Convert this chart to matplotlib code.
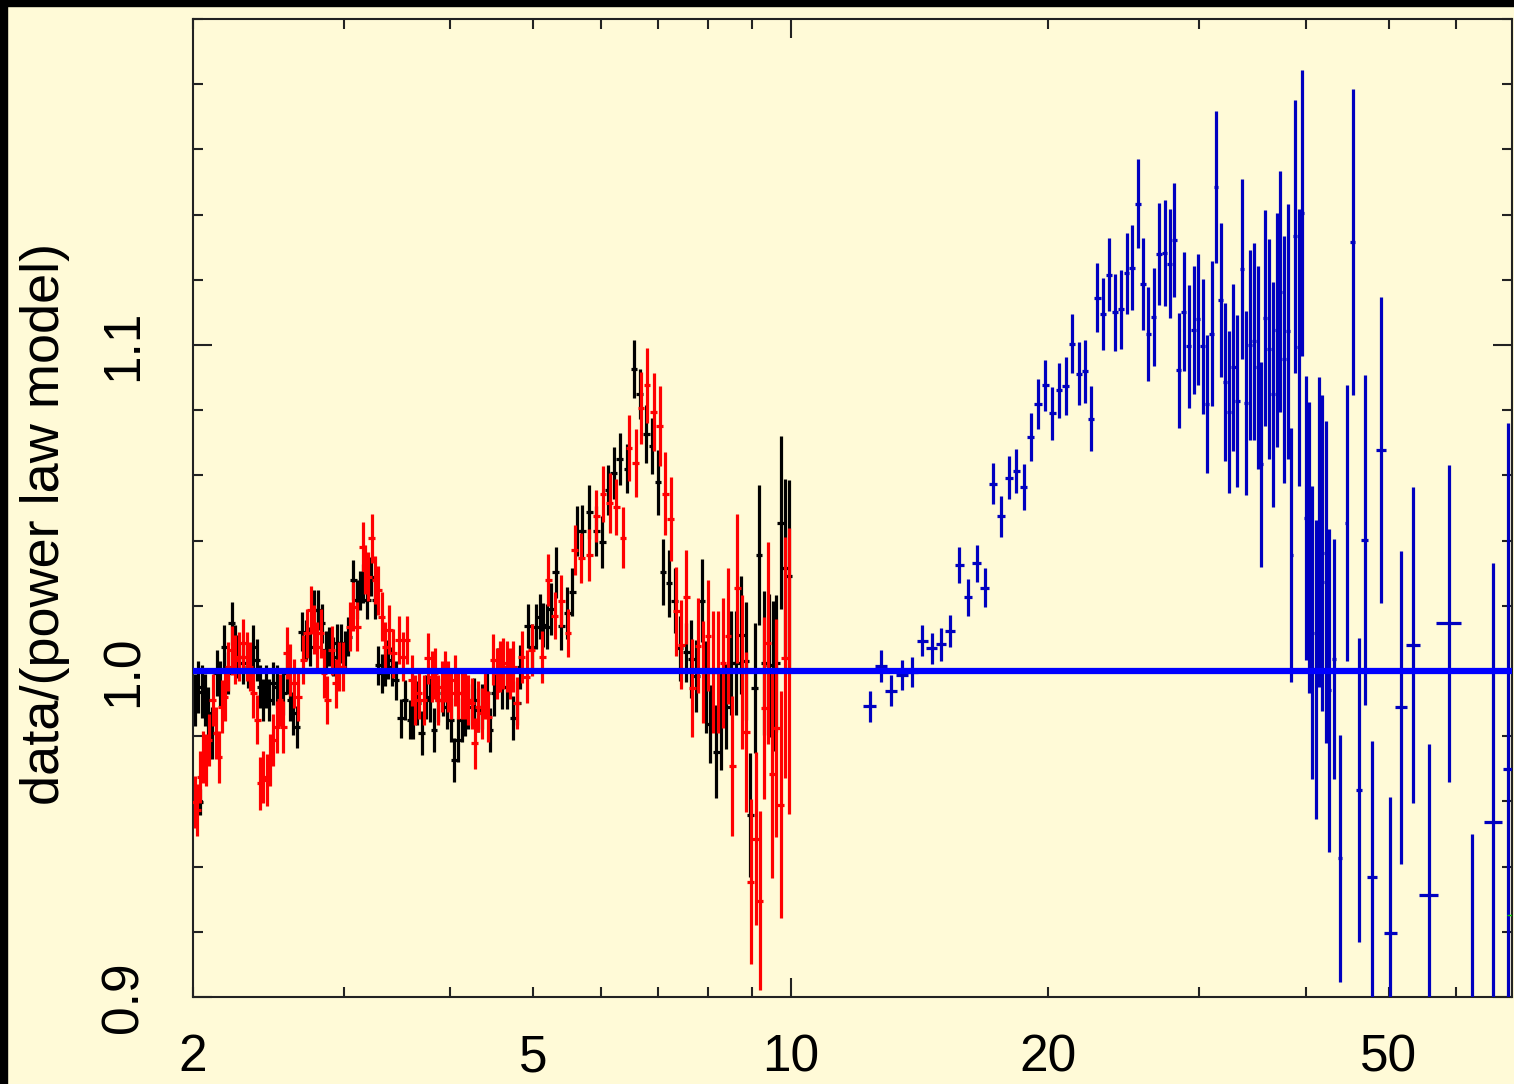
# -*- coding: utf-8 -*-
"""
Ratio of data to a power-law model vs energy (keV)
"""
import numpy as np
import matplotlib
matplotlib.use('Agg')
import matplotlib.pyplot as plt
from matplotlib.ticker import FixedLocator, FixedFormatter, FuncFormatter, MultipleLocator
from matplotlib.patches import Rectangle

BG = '#FFFAD7'

# --- black spectrum (2-10 keV) ---
black_e = [2.011, 2.029, 2.038, 2.047, 2.066, 2.084, 2.107, 2.132, 2.151, 2.176,
           2.200, 2.220, 2.240, 2.260, 2.291, 2.322, 2.353, 2.374, 2.395, 2.413,
           2.434, 2.456, 2.483, 2.505, 2.527, 2.550, 2.573, 2.596, 2.620, 2.644,
           2.679, 2.711, 2.740, 2.772, 2.802, 2.827, 2.858, 2.886, 2.918, 2.949,
           2.978, 3.011, 3.038, 3.079, 3.107, 3.135, 3.163, 3.197, 3.229, 3.264,
           3.293, 3.323, 3.353, 3.383, 3.414, 3.454, 3.497, 3.538, 3.586, 3.619,
           3.658, 3.701, 3.744, 3.784, 3.826, 3.870, 3.923, 3.958, 4.001, 4.037,
           4.077, 4.121, 4.159, 4.196, 4.260, 4.311, 4.357, 4.408, 4.448, 4.496,
           4.549, 4.590, 4.652, 4.736, 4.788, 4.822, 4.923, 4.976, 5.034, 5.089,
           5.135, 5.190,
           5.241, 5.312, 5.393, 5.477, 5.551, 5.631, 5.707, 5.811, 5.926, 6.023,
           6.115, 6.209, 6.310, 6.436, 6.558, 6.659, 6.780, 6.884, 6.996, 7.091,
           7.207, 7.317, 7.416, 7.551, 7.653, 7.757, 7.876, 7.969, 8.055, 8.186,
           8.297, 8.410, 8.523, 8.638, 8.755, 8.858, 8.970, 9.075, 9.182, 9.307,
           9.433, 9.535, 9.621, 9.734, 9.839, 9.946]
black_r = [0.9911, 0.9952, 0.9597, 0.9937, 0.9911, 0.9870, 0.9809, 0.9993, 0.9962, 1.0075,
           0.9993, 1.0146, 1.0075, 1.0044, 1.0024, 1.0013, 1.0075, 1.0034, 0.9952, 0.9911,
           0.9952, 0.9911, 0.9962, 0.9952, 0.9911, 0.9931, 0.9993, 0.9911, 0.9870, 0.9829,
           1.0121, 1.0095, 1.0075, 1.0187, 1.0187, 1.0146, 1.0064, 1.0075, 1.0044, 1.0085,
           1.0085, 1.0064, 1.0105, 1.0279, 1.0218, 1.0248, 1.0269, 1.0218, 1.0289, 1.0218,
           1.0018, 0.9993, 1.0013, 1.0034, 1.0013, 0.9972, 0.9855, 0.9911, 0.9850, 0.9850,
           0.9901, 0.9809, 0.9921, 0.9911, 0.9819, 0.9911, 0.9931, 0.9891, 0.9850, 0.9727,
           0.9788, 0.9850, 0.9870, 0.9891, 0.9911, 0.9880, 0.9891, 0.9931, 0.9819, 0.9931,
           1.0003, 0.9952, 0.9952, 0.9855, 0.9901, 1.0013, 1.0138, 1.0075, 1.0136, 1.0167,
           1.0141, 1.0136,
           1.0190, 1.0303, 1.0137, 1.0177, 1.0243, 1.0429, 1.0429, 1.0488, 1.0429, 1.0396,
           1.0555, 1.0608, 1.0650, 1.0621, 1.0926, 1.0849, 1.0727, 1.0690, 1.0579, 1.0303,
           1.0269, 1.0216, 1.0070, 1.0057, 1.0037, 0.9984, 1.0216, 0.9951, 0.9838, 0.9752,
           0.9851, 0.9891, 1.0024, 1.0024, 1.0110, 1.0031, 0.9559, 0.9947, 1.0356, 1.0024,
           1.0017, 0.9984, 1.0024, 1.0455, 1.0316, 1.0292]
black_err = [0.008, 0.008, 0.004, 0.008, 0.008, 0.008, 0.008, 0.007, 0.007, 0.0065,
             0.0065, 0.0065, 0.0065, 0.0065, 0.0065, 0.0065, 0.0065, 0.0065, 0.0065, 0.0065,
             0.0065, 0.0065, 0.0065, 0.0065, 0.0065, 0.0065, 0.0065, 0.0065, 0.0065, 0.0065,
             0.006, 0.006, 0.006, 0.006, 0.006, 0.006, 0.006, 0.006, 0.006, 0.006,
             0.006, 0.006, 0.006, 0.006, 0.006, 0.006, 0.006, 0.006, 0.006, 0.006,
             0.006, 0.006, 0.006, 0.006, 0.006, 0.006, 0.006, 0.006, 0.006, 0.006,
             0.0068, 0.0068, 0.0068, 0.0068, 0.0068, 0.0068, 0.0068, 0.0068, 0.0068, 0.0068,
             0.0068, 0.0068, 0.0068, 0.0068, 0.0068, 0.0068, 0.0068, 0.0068, 0.0068, 0.0068,
             0.0068, 0.0068, 0.0068, 0.0068, 0.0068, 0.0068, 0.0068, 0.0068, 0.0068, 0.0068,
             0.0068, 0.0068,
             0.008, 0.0078, 0.0073, 0.008, 0.0073, 0.0076, 0.008, 0.0082, 0.0076, 0.008,
             0.0077, 0.008, 0.008, 0.0076, 0.009, 0.0076, 0.009, 0.0086, 0.010, 0.0101,
             0.0103, 0.010, 0.010, 0.009, 0.012, 0.011, 0.0128, 0.014, 0.012, 0.0143,
             0.0155, 0.013, 0.016, 0.016, 0.018, 0.018, 0.019, 0.020, 0.0216, 0.022,
             0.022, 0.023, 0.021, 0.0265, 0.0272, 0.0295]

# --- red spectrum (2-10 keV) ---
red_e = [2.011, 2.024, 2.038, 2.052, 2.071, 2.089, 2.108, 2.127, 2.145, 2.161,
         2.178, 2.200, 2.220, 2.240, 2.266, 2.291, 2.311, 2.332, 2.353, 2.378,
         2.395, 2.416, 2.438, 2.460, 2.483, 2.505, 2.527, 2.550, 2.573, 2.596,
         2.625, 2.655, 2.692, 2.716, 2.745, 2.769, 2.795, 2.820, 2.845, 2.871,
         2.904, 2.936, 2.964, 2.996, 3.049, 3.079, 3.112, 3.157, 3.177, 3.206,
         3.235, 3.264, 3.293, 3.323, 3.353, 3.392, 3.430, 3.478, 3.519, 3.557,
         3.605, 3.638, 3.671, 3.720, 3.761, 3.804, 3.837, 3.870, 3.905, 3.940,
         3.976, 4.011, 4.048, 4.084, 4.121, 4.159, 4.196, 4.234, 4.271, 4.311,
         4.350, 4.389, 4.428, 4.488, 4.529, 4.569, 4.610, 4.652, 4.694, 4.736,
         4.779, 4.844, 4.910, 4.976, 5.124, 5.204,
         5.298, 5.393, 5.491, 5.591, 5.692, 5.811, 5.926, 6.033, 6.142, 6.254,
         6.367, 6.471, 6.588, 6.683, 6.792, 6.915, 7.028, 7.136, 7.239, 7.350,
         7.450, 7.551, 7.674, 7.792, 7.898, 8.004, 8.113, 8.223, 8.334, 8.447,
         8.546, 8.662, 8.771, 8.874, 8.978, 9.100, 9.199, 9.307, 9.407, 9.518,
         9.621, 9.734, 9.839, 9.946]
red_r = [0.9599, 0.9574, 0.9676, 0.9737, 0.9727, 0.9788, 0.9911, 0.9809, 0.9737, 0.9891,
         0.9921, 1.0013, 1.0064, 1.0034, 1.0044, 1.0085, 1.0044, 1.0013, 0.9931, 0.9850,
         0.9655, 0.9676, 0.9666, 0.9727, 0.9788, 0.9829, 0.9911, 0.9829, 1.0054, 1.0003,
         0.9962, 0.9921, 1.0034, 1.0116, 1.0187, 1.0126, 1.0075, 1.0116, 0.9993, 0.9911,
         1.0064, 0.9962, 1.0013, 1.0013, 1.0136, 1.0197, 1.0136, 1.0381, 1.0310, 1.0289,
         1.0407, 1.0279, 1.0248, 1.0167, 1.0075, 1.0126, 1.0054, 1.0095, 1.0044, 1.0095,
         0.9972, 0.9911, 0.9931, 0.9911, 1.0039, 0.9983, 0.9993, 0.9911, 0.9952, 0.9983,
         0.9952, 0.9931, 0.9972, 0.9931, 0.9931, 0.9931, 0.9911, 0.9901, 0.9778, 0.9891,
         0.9870, 0.9931, 0.9860, 1.0034, 0.9993, 1.0013, 1.0024, 1.0013, 0.9993, 1.0013,
         0.9901, 1.0044, 0.9983, 1.0064, 1.0044, 1.0279,
         1.0170, 1.0216, 1.0117, 1.0372, 1.0346, 1.0356, 1.0475, 1.0544, 1.0515, 1.0502,
         1.0409, 1.0684, 1.0638, 1.0807, 1.0876, 1.0794, 1.0751, 1.0544, 1.0465, 1.0183,
         1.0081, 1.0227, 0.9947, 1.0077, 0.9997, 1.0108, 0.9997, 0.9997, 1.0024, 1.0108,
         0.9709, 1.0254, 0.9997, 0.9812, 0.9354, 0.9486, 0.9296, 0.9887, 1.0086, 0.9683,
         0.9825, 0.9590, 1.0041, 1.0001]
red_err = [0.008, 0.008, 0.008, 0.008, 0.008, 0.008, 0.008, 0.008, 0.008, 0.008,
           0.0075, 0.0075, 0.0075, 0.0075, 0.0075, 0.0075, 0.0075, 0.0075, 0.0075, 0.0075,
           0.008, 0.008, 0.008, 0.008, 0.008, 0.008, 0.008, 0.008, 0.008, 0.008,
           0.0075, 0.0075, 0.0075, 0.0075, 0.0075, 0.0075, 0.0075, 0.0075, 0.0075, 0.0075,
           0.0075, 0.0075, 0.0075, 0.0075, 0.0075, 0.0075, 0.0075, 0.0075, 0.0075, 0.0075,
           0.0075, 0.0075, 0.0075, 0.0075, 0.0075, 0.0075, 0.0075, 0.0075, 0.0075, 0.0075,
           0.0078, 0.0078, 0.0078, 0.0078, 0.0078, 0.0078, 0.0078, 0.0078, 0.0078, 0.0078,
           0.0078, 0.0078, 0.0078, 0.0078, 0.0078, 0.0078, 0.0078, 0.0078, 0.0078, 0.0078,
           0.0078, 0.0078, 0.0078, 0.0078, 0.0078, 0.0078, 0.0078, 0.0078, 0.0078, 0.0078,
           0.008, 0.008, 0.008, 0.008, 0.008, 0.008,
           0.0073, 0.008, 0.0073, 0.0076, 0.0076, 0.008, 0.008, 0.0086, 0.0093, 0.0086,
           0.0093, 0.010, 0.0104, 0.011, 0.0114, 0.0119, 0.0122, 0.0127, 0.0129, 0.0136,
           0.0137, 0.0143, 0.015, 0.0146, 0.0156, 0.017, 0.0186, 0.0186, 0.020, 0.0209,
           0.0214, 0.0229, 0.0235, 0.0245, 0.0252, 0.0265, 0.0275, 0.028, 0.031, 0.0318,
           0.0335, 0.0348, 0.037, 0.0439]

# relative half bin width of the 2-10 keV spectra
LOW_BIN_HALF = 0.009

# --- blue spectrum (12-70 keV) ---
blue_e = [12.36, 12.74, 13.10, 13.49, 13.86, 14.24, 14.61, 14.99, 15.36, 15.73,
          16.11, 16.49, 16.85, 17.23, 17.62, 17.98, 18.36, 18.72, 19.08, 19.46,
          19.85, 20.21, 20.59, 20.96, 21.32, 21.72, 22.09, 22.44, 22.83, 23.20,
          23.58, 23.94, 24.31, 24.69, 25.07, 25.45, 25.82, 26.19, 26.57, 26.95,
          27.35, 27.72, 28.06, 28.42, 28.81, 29.20, 29.57, 29.92, 30.30, 30.68,
          31.06, 31.43, 31.80, 32.17, 32.55, 32.93, 33.28, 33.67, 34.03, 34.40,
          34.77, 35.15, 35.50, 35.89, 36.24, 36.63, 37.00, 37.37, 37.74, 38.14,
          38.49, 38.87, 39.26, 39.61, 40.00, 40.36, 40.72, 41.12, 41.50, 41.83,
          42.24, 42.58, 43.16, 43.86, 44.66, 45.38, 46.12, 46.87, 47.81, 48.94,
          50.24, 51.70, 53.40, 55.70, 58.78, 62.54, 66.22, 68.88]
blue_r = [0.9892, 1.0014, 0.9940, 0.9988, 0.9997, 1.0093, 1.0070, 1.0082, 1.0123, 1.0326,
          1.0226, 1.0330, 1.0256, 1.0575, 1.0475, 1.0593, 1.0614, 1.0564, 1.0718, 1.0818,
          1.0876, 1.0790, 1.0861, 1.0874, 1.1004, 1.0912, 1.0919, 1.0774, 1.1145, 1.1094,
          1.1216, 1.1100, 1.1109, 1.1220, 1.1237, 1.1434, 1.1187, 1.1035, 1.1086, 1.1280,
          1.1282, 1.1249, 1.1322, 1.0922, 1.1102, 1.0996, 1.1045, 1.1079, 1.0996, 1.0819,
          1.1035, 1.1486, 1.1138, 1.0887, 1.0794, 1.0931, 1.0829, 1.1233, 1.0822, 1.1000,
          1.1011, 1.0931, 1.0634, 1.1083, 1.0987, 1.0849, 1.1045, 1.1164, 1.0956, 1.1042,
          1.0356, 1.1333, 1.0993, 1.1405, 1.0469, 1.0379, 1.0117, 1.0005, 1.0427, 1.0362,
          1.0272, 0.9941, 1.0037, 0.9425, 1.0455, 1.1316, 0.9635, 1.0402, 0.9367, 1.0678,
          0.9196, 0.9889, 1.0079, 0.9313, 1.0146, 0.8850, 0.9536, 0.9700]
blue_err = [0.0047, 0.0049, 0.0048, 0.0047, 0.0045, 0.0048, 0.0048, 0.0051, 0.0050, 0.0055,
            0.0056, 0.0057, 0.0059, 0.0062, 0.0063, 0.0066, 0.0068, 0.0070, 0.0074, 0.0077,
            0.0078, 0.0082, 0.0085, 0.0088, 0.0090, 0.0096, 0.0097, 0.0100, 0.0106, 0.0110,
            0.0112, 0.0118, 0.0122, 0.0125, 0.0131, 0.0137, 0.0141, 0.0144, 0.0151, 0.0157,
            0.0163, 0.0167, 0.0174, 0.0177, 0.0182, 0.0189, 0.0196, 0.0201, 0.0207, 0.0212,
            0.0222, 0.0233, 0.0237, 0.0242, 0.0249, 0.0256, 0.0264, 0.0277, 0.0281, 0.0290,
            0.0301, 0.0310, 0.0315, 0.0330, 0.0338, 0.0345, 0.0359, 0.0371, 0.0378, 0.0392,
            0.0390, 0.0418, 0.0425, 0.0440, 0.0436, 0.0445, 0.0449, 0.0458, 0.0476, 0.0485,
            0.0494, 0.0496, 0.0369, 0.0380, 0.0423, 0.0470, 0.0467, 0.0506, 0.0419, 0.0469,
            0.0419, 0.0480, 0.0485, 0.0464, 0.0487, 0.0650, 0.0794, 0.1060]
blue_xerr = [0.21, 0.21, 0.21, 0.21, 0.21, 0.21, 0.21, 0.21, 0.21, 0.19,
             0.19, 0.19, 0.19, 0.19, 0.19, 0.19, 0.19, 0.19, 0.19, 0.19,
             0.19, 0.19, 0.19, 0.19, 0.19, 0.19, 0.19, 0.19, 0.19, 0.19,
             0.19, 0.19, 0.19, 0.19, 0.19, 0.19, 0.19, 0.19, 0.19, 0.19,
             0.19, 0.19, 0.19, 0.19, 0.19, 0.19, 0.19, 0.19, 0.19, 0.19,
             0.19, 0.19, 0.19, 0.19, 0.19, 0.19, 0.19, 0.19, 0.19, 0.19,
             0.19, 0.19, 0.19, 0.19, 0.19, 0.19, 0.19, 0.19, 0.19, 0.19,
             0.19, 0.19, 0.19, 0.19, 0.19, 0.19, 0.19, 0.19, 0.19, 0.19,
             0.19, 0.19, 0.19, 0.19, 0.19, 0.35, 0.37, 0.40, 0.60, 0.65,
             0.85, 0.80, 1.05, 1.45, 1.95, 1.90, 1.60, 0.80]

# tiny green point at the right edge
green_e = [70.0]
green_r = [0.9252]
green_xerr = [1.3]

MODEL_LEVEL = 1.0

xticks_major = [10]
xticks_minor = [2, 3, 4, 5, 6, 7, 8, 9, 20, 30, 40, 50, 60]
xtick_labelled = [2, 5, 20, 50]
yticks_major = [0.9, 1.0, 1.1]
ytick_labels = ['0.9', '1.0', '1.1']

plt.rcParams['font.family'] = ['Liberation Sans', 'DejaVu Sans']

fig = plt.figure(figsize=(15.14, 10.84), dpi=100, facecolor=BG)
ax = fig.add_axes([193 / 1514, 87 / 1084, 1319 / 1514, 978 / 1084])
ax.set_facecolor(BG)

# black frame strips on top and left edge
fig.add_artist(Rectangle((0, 1 - 6 / 1084), 1, 6 / 1084, transform=fig.transFigure,
                         color='black', zorder=10))
fig.add_artist(Rectangle((0, 0), 7 / 1514, 1, transform=fig.transFigure,
                         color='black', zorder=10))

lw = 2.3
be = np.array(black_e)
ax.errorbar(be, black_r, yerr=black_err, xerr=be * LOW_BIN_HALF, fmt='none',
            ecolor='black', elinewidth=lw, capsize=0, zorder=2)
re = np.array(red_e)
ax.errorbar(re, red_r, yerr=red_err, xerr=re * LOW_BIN_HALF, fmt='none',
            ecolor='#FF0000', elinewidth=lw, capsize=0, zorder=3)
ax.errorbar(blue_e, blue_r, yerr=blue_err, xerr=blue_xerr, fmt='none',
            ecolor='#0000C0', elinewidth=lw, capsize=0, zorder=3)
ax.errorbar(green_e, green_r, xerr=green_xerr, fmt='none',
            ecolor='#00CC00', elinewidth=1.0, capsize=0, zorder=3)

ax.axhline(MODEL_LEVEL, color='#0000FF', lw=4.5, zorder=5)

ax.set_xscale('log')
ax.set_xlim(2, 69.7)
ax.set_ylim(0.9, 1.2)

ax.xaxis.set_major_locator(FixedLocator(xticks_major))
ax.xaxis.set_major_formatter(FixedFormatter([str(v) for v in xticks_major]))
ax.xaxis.set_minor_locator(FixedLocator(xticks_minor))
ax.xaxis.set_minor_formatter(FuncFormatter(lambda v, p: f'{v:g}' if v in xtick_labelled else ''))

ax.yaxis.set_major_locator(FixedLocator(yticks_major))
ax.yaxis.set_major_formatter(FixedFormatter(ytick_labels))
ax.yaxis.set_minor_locator(MultipleLocator(0.02))

ax.tick_params(which='both', direction='in', top=True, right=True,
               width=1.5, color='#222222', labelsize=37, pad=26)
ax.tick_params(which='major', length=13.5)
ax.tick_params(which='minor', length=7)
ax.tick_params(axis='y', which='both', pad=32)
for lbl in ax.get_yticklabels():
    lbl.set_rotation(90)
    lbl.set_va('center')

for sp in ax.spines.values():
    sp.set_color('#222222')
    sp.set_linewidth(1.5)

ax.set_ylabel('data/(power law model)', fontsize=39)
ax.yaxis.set_label_coords(-0.093, 0.484)

plt.savefig('out.png', dpi=100, facecolor=BG)
plt.close()
